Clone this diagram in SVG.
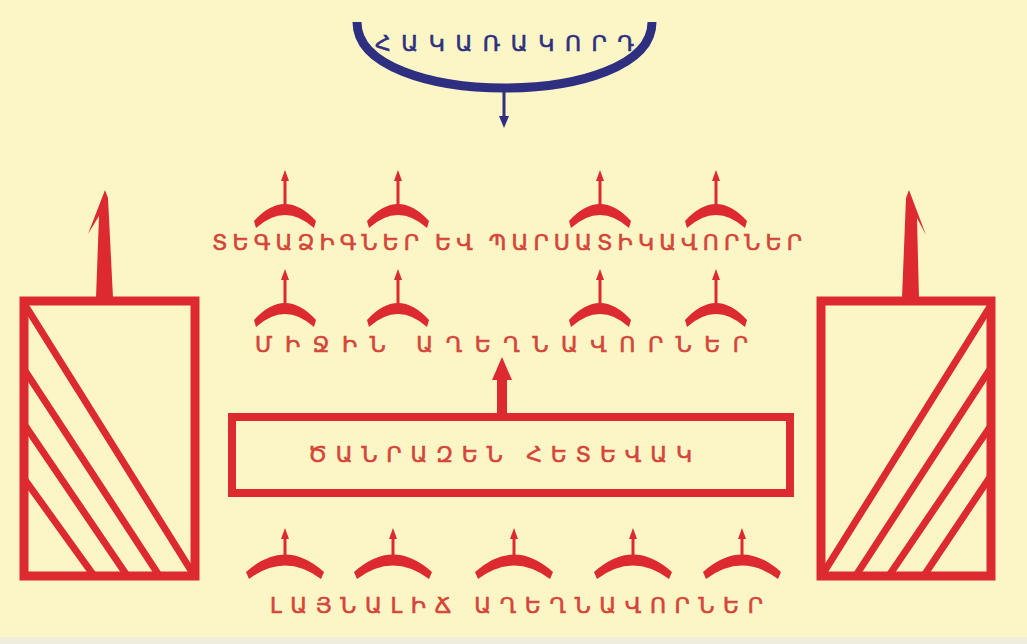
<svg xmlns="http://www.w3.org/2000/svg" xmlns:xlink="http://www.w3.org/1999/xlink" width="1027" height="644" viewBox="0 0 1027 644">
<style>
.red{fill:#dc2a30}
.rs{fill:none;stroke:#dc2a30}
.lbl{font-family:"Noto Sans","DejaVu Sans",sans-serif;font-size:22px;fill:#d4453a;stroke:#d4453a;stroke-width:0.6}
.top{font-family:"Noto Sans","DejaVu Sans",sans-serif;font-size:22px;fill:#2e2f80;stroke:#2e2f80;stroke-width:0.6}
</style>
<defs>
<g id="ant">
<path class="red" d="M-31,13 Q0,-21 31,13 L29,20 Q0,-6 -29,20 Z"/>
<line x1="0" y1="0" x2="0" y2="-30" stroke="#dc2a30" stroke-width="3"/>
<polygon class="red" points="0,-38 -4,-27 4,-27"/>
</g>
<g id="antW">
<path class="red" d="M-39,14 Q0,-21 39,14 L36,21 Q0,-6 -36,21 Z"/>
<line x1="0" y1="0" x2="0" y2="-22" stroke="#dc2a30" stroke-width="3"/>
<polygon class="red" points="0,-30 -4,-19 4,-19"/>
</g>
<clipPath id="cL"><rect x="24" y="301" width="171" height="275"/></clipPath>
<clipPath id="cR"><rect x="821" y="301" width="170" height="275"/></clipPath>
</defs>
<rect width="1027" height="644" fill="#fcf6c6"/>
<rect y="637" width="1027" height="7" fill="#efeede"/>

<g id="enemy">
<path d="M357,22 C357,110 652,110 652,22" fill="none" stroke="#2e2f80" stroke-width="9"/>
<text class="top" x="375" y="51" textLength="259" lengthAdjust="spacing">ՀԱԿԱՌԱԿՈՐԴ</text>
</g>

<g id="connectors">
<line x1="504" y1="90" x2="504" y2="118" stroke="#2e2f80" stroke-width="3"/>
<polygon points="504,128 499,116 509,116" fill="#2e2f80"/>
<rect class="red" x="497" y="375" width="10" height="42"/>
<polygon class="red" points="502,357 492,380 512,380"/>
<polygon class="red" points="105,190 88,234 99,216 96,298 113,298 108,198"/>
<polygon class="red" points="909,190 926,235 917,218 919,298 902,298 906,198"/>
</g>

<g id="row1">
<use xlink:href="#ant" x="285" y="208"/>
<use xlink:href="#ant" x="398" y="208"/>
<use xlink:href="#ant" x="600" y="208"/>
<use xlink:href="#ant" x="716" y="208"/>
<text class="lbl" x="212" y="250" textLength="590" lengthAdjust="spacing">ՏԵԳԱՁԻԳՆԵՐ ԵՎ ՊԱՐՍԱՏԻԿԱՎՈՐՆԵՐ</text>
</g>

<g id="row2">
<use xlink:href="#ant" x="285" y="307"/>
<use xlink:href="#ant" x="398" y="307"/>
<use xlink:href="#ant" x="600" y="307"/>
<use xlink:href="#ant" x="716" y="307"/>
<text class="lbl" x="255" y="352" textLength="493" lengthAdjust="spacing">ՄԻՋԻՆ ԱՂԵՂՆԱՎՈՐՆԵՐ</text>
</g>

<g id="infantry">
<rect class="rs" x="232" y="417" width="558" height="76" stroke-width="8"/>
<text class="lbl" x="308" y="462" textLength="384" lengthAdjust="spacing">ԾԱՆՐԱԶԵՆ ՀԵՏԵՎԱԿ</text>
</g>

<g id="row3">
<use xlink:href="#antW" x="285" y="558"/>
<use xlink:href="#antW" x="393" y="558"/>
<use xlink:href="#antW" x="514" y="558"/>
<use xlink:href="#antW" x="633" y="558"/>
<use xlink:href="#antW" x="742" y="558"/>
<text class="lbl" x="270" y="613" textLength="493" lengthAdjust="spacing">ԼԱՅՆԱԼԻՃ ԱՂԵՂՆԱՎՈՐՆԵՐ</text>
</g>

<g id="leftWing">
<rect class="rs" x="24" y="301" width="171" height="275" stroke-width="9"/>
<g clip-path="url(#cL)" stroke="#dc2a30" stroke-width="7">
<line x1="20" y1="297" x2="197" y2="580"/>
<line x1="20" y1="363" x2="162" y2="580"/>
<line x1="20" y1="418" x2="130" y2="580"/>
<line x1="20" y1="473" x2="97" y2="580"/>
</g>
</g>

<g id="rightWing">
<rect class="rs" x="821" y="301" width="170" height="275" stroke-width="9"/>
<g clip-path="url(#cR)" stroke="#dc2a30" stroke-width="7">
<line x1="996" y1="297" x2="819" y2="580"/>
<line x1="996" y1="360" x2="853" y2="580"/>
<line x1="996" y1="418" x2="886" y2="580"/>
<line x1="996" y1="468" x2="921" y2="580"/>
</g>
</g>
</svg>
